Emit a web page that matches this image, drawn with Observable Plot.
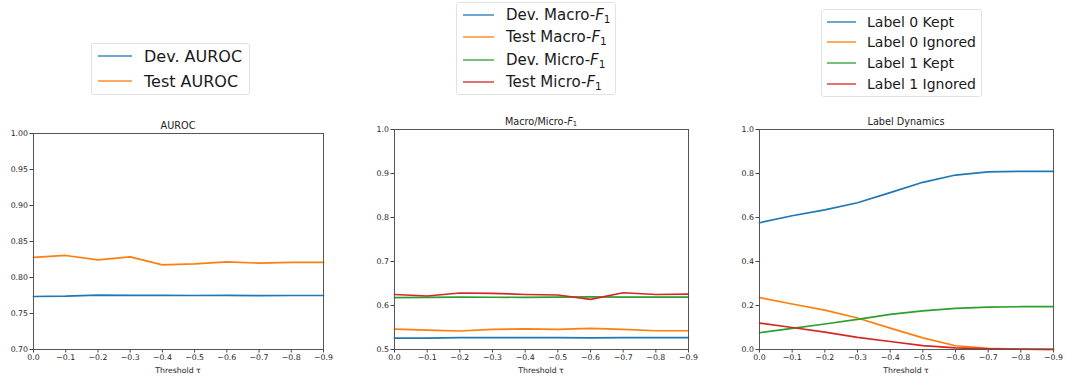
<!DOCTYPE html>
<html>
<head>
<meta charset="utf-8">
<script src="https://cdn.jsdelivr.net/npm/d3@7"></script>
<script src="https://cdn.jsdelivr.net/npm/@observablehq/plot@0.6"></script>
<style>
  html, body { margin: 0; padding: 0; background: #fff; }
  #fig { position: relative; width: 1066px; height: 380px; font-family: "DejaVu Sans", sans-serif; color: #222; overflow: hidden; }
  .panel { position: absolute; top: 0; }
  .title { position: absolute; transform: translate(-50%, -50%); white-space: nowrap; font-size: 9.7px; color: #222; }
  .xlabel { position: absolute; transform: translate(-50%, -50%); white-space: nowrap; font-size: 7.8px; color: #262626; }
  .legend { position: absolute; background: #fff; border: 1px solid #e2e2e2; border-radius: 3px; box-sizing: border-box; }
  .legend .sw { position: absolute; height: 2px; }
  .legend .tx { position: absolute; transform: translateY(-50%); white-space: nowrap; color: #1a1a1a; }
  sub { font-size: 70%; vertical-align: -0.25em; line-height: 0; }
</style>
</head>
<body>
<div id="fig"></div>
<script>
// Threshold τ values shared by all three panels
const thresholds = [0.0, -0.1, -0.2, -0.3, -0.4, -0.5, -0.6, -0.7, -0.8, -0.9];

// AUROC
const devAuroc  = [0.7736, 0.7740, 0.7755, 0.7752, 0.7751, 0.7750, 0.7751, 0.7749, 0.7750, 0.7750];
const testAuroc = [0.8280, 0.8306, 0.8245, 0.8287, 0.8176, 0.8190, 0.8218, 0.8200, 0.8210, 0.8210];

// Macro / Micro F1
const devMacroF1  = [0.5258, 0.5258, 0.5270, 0.5268, 0.5268, 0.5270, 0.5262, 0.5268, 0.5268, 0.5270];
const testMacroF1 = [0.5464, 0.5440, 0.5420, 0.5456, 0.5470, 0.5456, 0.5480, 0.5456, 0.5426, 0.5426];
const devMicroF1  = [0.6178, 0.6185, 0.6190, 0.6188, 0.6186, 0.6192, 0.6195, 0.6190, 0.6190, 0.6192];
const testMicroF1 = [0.6250, 0.6216, 0.6284, 0.6277, 0.6250, 0.6239, 0.6140, 0.6290, 0.6250, 0.6260];

// Label dynamics (fractions of samples)
const label0Kept    = [0.576, 0.608, 0.635, 0.667, 0.713, 0.760, 0.793, 0.807, 0.810, 0.810];
const label0Ignored = [0.236, 0.207, 0.179, 0.143, 0.097, 0.053, 0.017, 0.005, 0.0015, 0.001];
const label1Kept    = [0.076, 0.096, 0.116, 0.137, 0.160, 0.176, 0.187, 0.193, 0.1945, 0.1945];
const label1Ignored = [0.120, 0.100, 0.079, 0.055, 0.0365, 0.018, 0.0076, 0.003, 0.0015, 0.001];

// Y tick values
const aurocTicks = [0.70, 0.75, 0.80, 0.85, 0.90, 0.95, 1.00];
const f1Ticks = [0.5, 0.6, 0.7, 0.8, 0.9, 1.0];
const labelTicks = [0.0, 0.2, 0.4, 0.6, 0.8, 1.0];

const C = ["#1f77b4", "#ff7f0e", "#2ca02c", "#d62728"];
const fig = document.getElementById("fig");

function rows(series) {
  return series.flatMap(s => thresholds.map((t, i) => ({t, v: s.values[i], name: s.name})));
}

function panel({left, width, mt, mr, mb, ml, yDomain, yTicks, yFormat, series}) {
  const data = rows(series);
  const chart = Plot.plot({
    width, height: 380,
    marginTop: mt, marginRight: mr, marginBottom: mb, marginLeft: ml,
    style: {fontFamily: "DejaVu Sans, sans-serif", fontSize: "7.8px", color: "#262626", background: "transparent", overflow: "visible"},
    x: {domain: [0, -0.9], ticks: thresholds, tickFormat: d3.format(".1f")},
    y: {domain: yDomain, ticks: yTicks, tickFormat: d3.format(yFormat)},
    color: {domain: series.map(s => s.name), range: series.map(s => s.color)},
    marks: [
      Plot.axisX({ticks: thresholds, tickFormat: d3.format(".1f"), tickSize: 3.5, tickPadding: 1.5, label: null, stroke: "#444"}),
      Plot.axisY({ticks: yTicks, tickFormat: d3.format(yFormat), tickSize: 3.5, tickPadding: 2, label: null, stroke: "#444"}),
      Plot.line(data, {x: "t", y: "v", z: "name", stroke: "name", strokeWidth: 1.7}),
      Plot.frame({stroke: "#555", strokeWidth: 1})
    ]
  });
  chart.classList.add("panel");
  chart.style.left = left + "px";
  fig.appendChild(chart);
}

function text(cls, html, x, y) {
  const d = document.createElement("div");
  d.className = cls;
  d.innerHTML = html;
  d.style.left = x + "px";
  d.style.top = y + "px";
  fig.appendChild(d);
}

function legend({left, top, width, height, fontSize, firstY, step, swX, swW, txX, items}) {
  const box = document.createElement("div");
  box.className = "legend";
  Object.assign(box.style, {left: left + "px", top: top + "px", width: width + "px", height: height + "px", fontSize: fontSize + "px"});
  items.forEach((it, i) => {
    const cy = firstY - top + i * step;
    const sw = document.createElement("div");
    sw.className = "sw";
    Object.assign(sw.style, {left: Math.round(swX - left) + "px", top: Math.round(cy - 1) + "px", width: swW + "px", background: it.color, opacity: 0.65});
    const tx = document.createElement("div");
    tx.className = "tx";
    tx.innerHTML = it.label;
    Object.assign(tx.style, {left: (txX - left) + "px", top: cy + "px"});
    box.appendChild(sw);
    box.appendChild(tx);
  });
  fig.appendChild(box);
}

const F1 = "<i>F</i><sub>1</sub>";

// Panel 1: AUROC
panel({left: 0, width: 340, mt: 133, mr: 17, mb: 31, ml: 33,
  yDomain: [0.70, 1.00], yTicks: aurocTicks, yFormat: ".2f",
  series: [
    {name: "Dev. AUROC", values: devAuroc, color: C[0]},
    {name: "Test AUROC", values: testAuroc, color: C[1]}
  ]});
text("title", "AUROC", 178, 125);
text("xlabel", "Threshold τ", 178, 370);
legend({left: 91, top: 43, width: 159, height: 52, fontSize: 16, firstY: 55, step: 25, swX: 97, swW: 34, txX: 143,
  items: [{label: "Dev. AUROC", color: C[0]}, {label: "Test AUROC", color: C[1]}]});

// Panel 2: Macro / Micro F1
panel({left: 350, width: 350, mt: 129, mr: 12, mb: 31, ml: 44,
  yDomain: [0.5, 1.0], yTicks: f1Ticks, yFormat: ".1f",
  series: [
    {name: "Dev. Macro-F1", values: devMacroF1, color: C[0]},
    {name: "Test Macro-F1", values: testMacroF1, color: C[1]},
    {name: "Dev. Micro-F1", values: devMicroF1, color: C[2]},
    {name: "Test Micro-F1", values: testMicroF1, color: C[3]}
  ]});
text("title", "Macro/Micro-" + F1, 541, 121);
text("xlabel", "Threshold τ", 541, 370);
legend({left: 456, top: 2, width: 160, height: 93, fontSize: 15, firstY: 14, step: 22.4, swX: 462, swW: 31, txX: 505,
  items: [
    {label: "Dev. Macro-" + F1, color: C[0]},
    {label: "Test Macro-" + F1, color: C[1]},
    {label: "Dev. Micro-" + F1, color: C[2]},
    {label: "Test Micro-" + F1, color: C[3]}
  ]});

// Panel 3: Label dynamics
panel({left: 700, width: 366, mt: 129, mr: 13, mb: 31, ml: 59,
  yDomain: [0, 1], yTicks: labelTicks, yFormat: ".1f",
  series: [
    {name: "Label 0 Kept", values: label0Kept, color: C[0]},
    {name: "Label 0 Ignored", values: label0Ignored, color: C[1]},
    {name: "Label 1 Kept", values: label1Kept, color: C[2]},
    {name: "Label 1 Ignored", values: label1Ignored, color: C[3]}
  ]});
text("title", "Label Dynamics", 906, 121);
text("xlabel", "Threshold τ", 906, 370);
legend({left: 821, top: 9, width: 161, height: 88, fontSize: 14, firstY: 20.7, step: 20.7, swX: 826, swW: 29, txX: 866,
  items: [
    {label: "Label 0 Kept", color: C[0]},
    {label: "Label 0 Ignored", color: C[1]},
    {label: "Label 1 Kept", color: C[2]},
    {label: "Label 1 Ignored", color: C[3]}
  ]});
</script>
</body>
</html>
